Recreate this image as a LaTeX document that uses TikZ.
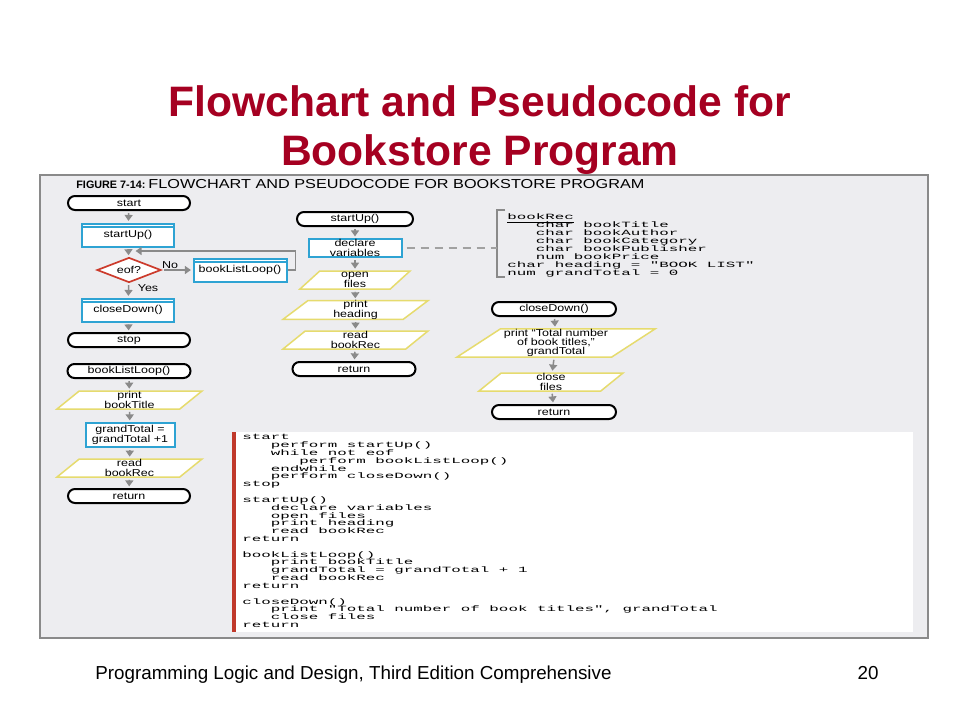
\documentclass[tikz,border=0pt]{standalone}
\usepackage{fontspec}
\setmainfont{Liberation Sans}
\newfontfamily\figfont[FakeStretch=1.25]{Liberation Sans}
\newfontfamily\codefont[FakeStretch=1.98]{Liberation Mono}
\usetikzlibrary{shapes.geometric,arrows.meta}

\definecolor{titlered}{HTML}{A50021}
\definecolor{modcyan}{HTML}{2EA3D3}
\definecolor{ioyellow}{HTML}{E6DB6E}
\definecolor{decred}{HTML}{CC3B2C}
\definecolor{arrgray}{HTML}{8A8A8A}
\definecolor{panelbg}{HTML}{EDEDF0}
\definecolor{codered}{HTML}{C0392B}
\newcommand\tabin{\hspace*{14.25pt}}
\lineskiplimit=-10pt

\begin{document}
\begin{tikzpicture}[x=0.5pt, y=-0.5pt,
    >={Triangle[length=3pt,width=4pt]},
    lbl/.style={inner sep=0pt, font=\figfont\fontsize{5}{4.7}\selectfont},
    term/.style={lbl, draw, line width=1pt, rounded corners=3.5pt, fill=white,
      minimum width=61pt, minimum height=7pt},
    procbox/.style={lbl, draw=modcyan, line width=1pt, fill=white, align=center,
      minimum width=46pt, minimum height=11.5pt},
    module/.style={procbox, path picture={\draw[modcyan, line width=0.6pt]
      ([yshift=-1.75pt]path picture bounding box.north west) --
      ([yshift=-1.75pt]path picture bounding box.north east);}},
    io/.style={lbl, trapezium, trapezium left angle=37, trapezium right angle=143,
      trapezium stretches body, draw=ioyellow, line width=0.75pt, fill=white,
      align=center, minimum width=72.5pt, minimum height=9pt},
    decision/.style={lbl, diamond, aspect=2.5, draw=decred, line width=0.85pt,
      fill=white, minimum width=32pt, minimum height=12.5pt},
    flow/.style={->, draw=arrgray, line width=0.75pt, shorten >=0.8pt, shorten <=1pt},
    code/.style={anchor=north west, inner sep=0pt, align=left,
      font=\codefont\fontsize{4}{3.915}\selectfont}]

  \fill[white] (0,0) rectangle (960,720);
  \useasboundingbox (0,0) rectangle (960,720);

  % slide title and footer
  \node[anchor=base, text=titlered, font=\bfseries\fontsize{21.3}{25}\selectfont]
    (title1) at (480,116) {Flowchart and Pseudocode for};
  \node[anchor=base, text=titlered, font=\bfseries\fontsize{21.3}{25}\selectfont]
    (title2) at (480,165) {Bookstore Program};
  \node[anchor=base west, inner sep=0pt, font=\fontsize{9.4}{11}\selectfont]
    (foot) at (95,679) {Programming Logic and Design, Third Edition Comprehensive};
  \node[anchor=base, inner sep=0pt, font=\fontsize{9.4}{11}\selectfont]
    (pagenum) at (868,679) {20};

  % figure panel
  \draw[draw=arrgray, line width=1pt, fill=panelbg] (40,175) rectangle (928,638);
  \fill[white] (236,432) rectangle (913,632);
  \fill[codered] (232,432) rectangle (236,632);
  \node[anchor=base west, inner sep=0pt, font=\bfseries\fontsize{5.4}{6}\selectfont]
    (fignum) at (76,188.5) {FIGURE 7-14:};
  \node[anchor=base west, inner sep=0pt, font=\figfont\fontsize{6.5}{7}\selectfont]
    (figcap) at (148,188.5) {FLOWCHART AND PSEUDOCODE FOR BOOKSTORE PROGRAM};

  % main logic
  \node[term] (start) at (129,203) {start};
  \node[module] (startup) at (128,235) {startUp()};
  \node[decision] (eof) at (129,270) {eof?};
  \node[module, minimum width=46.5pt] (loopcall) at (240,270) {bookListLoop()};
  \node[module] (closedown) at (128,310) {closeDown()};
  \node[term] (stop) at (129,340) {stop};
  \node[lbl] (nolbl) at (170,265) {No};
  \node[lbl] (yeslbl) at (148,288) {Yes};
  \coordinate (loopin) at (134,251);

  \draw[flow] (start) -- (startup);
  \draw[flow] (startup) -- (eof);
  \draw[flow] (eof) -- (loopcall);
  \draw[flow] (eof) -- (closedown);
  \draw[flow] (closedown) -- (stop);
  \draw[flow, shorten <=0pt] (loopcall.east) -- ++(8,0) |- (loopin);

  % bookListLoop module
  \node[term, minimum width=61.5pt] (looptop) at (129,371) {bookListLoop()};
  \node[io] (printtitle) at (129.5,400) {print\\bookTitle};
  \node[procbox, minimum width=44.5pt, minimum height=12pt] (addtotal) at (130,435)
    {grandTotal =\\grandTotal +1};
  \node[io] (readrec) at (129.5,468) {read\\bookRec};
  \node[term] (loopret) at (129,496) {return};

  \draw[flow] (looptop) -- (printtitle);
  \draw[flow] (printtitle) -- (addtotal);
  \draw[flow] (addtotal) -- (readrec);
  \draw[flow] (readrec) -- (loopret);

  % startUp module
  \node[term, minimum width=58pt] (sutop) at (355,219) {startUp()};
  \node[procbox, minimum width=46.5pt, minimum height=9pt] (declare) at (355,248)
    {declare\\variables};
  \node[io, minimum width=55pt] (openf) at (355,280) {open\\files};
  \node[io] (printhead) at (355.5,310) {print\\heading};
  \node[io] (readfirst) at (355.5,340) {read\\bookRec};
  \node[term, minimum width=61.5pt] (suret) at (354,369) {return};

  \draw[flow] (sutop) -- (declare);
  \draw[flow] (declare) -- (openf);
  \draw[flow] (openf) -- (printhead);
  \draw[flow] (printhead) -- (readfirst);
  \draw[flow] (readfirst) -- (suret);

  % declarations
  \draw[arrgray, line width=0.75pt] (505,210) -- (497,210) -- (497,277) -- (505,277);
  \coordinate (brk) at (497,248);
  \draw[arrgray!80, line width=0.6pt, dash pattern=on 4pt off 3pt, shorten <=2pt]
    (declare.east) -- (brk);
  \node[code, font=\codefont\fontsize{4}{4}\selectfont] (recdecl) at (507,213)
    {\underline{bookRec}\\
     \tabin char bookTitle\\
     \tabin char bookAuthor\\
     \tabin char bookCategory\\
     \tabin char bookPublisher\\
     \tabin num bookPrice\\
     char heading = "BOOK LIST"\\
     num grandTotal = 0};

  % closeDown module
  \node[term, minimum width=62pt] (cdtop) at (554,309) {closeDown()};
  \node[io, minimum width=99pt, minimum height=14pt, trapezium left angle=33,
    trapezium right angle=147] (printtot) at (556,343)
    {print “Total number\\of book titles,”\\grandTotal};
  \node[io, minimum width=72pt] (closef) at (551,382) {close\\files};
  \node[term, minimum width=62pt] (cdret) at (554,412) {return};

  \draw[flow] (cdtop) -- (printtot);
  \draw[flow] (printtot) -- (closef);
  \draw[flow] (closef) -- (cdret);

  % pseudocode
  \node[code] (pseudo) at (242,434)
    {start\\
     \tabin perform startUp()\\
     \tabin while not eof\\
     \tabin\tabin perform bookListLoop()\\
     \tabin endwhile\\
     \tabin perform closeDown()\\
     stop\\[3.9pt]
     startUp()\\
     \tabin declare variables\\
     \tabin open files\\
     \tabin print heading\\
     \tabin read bookRec\\
     return\\[3.9pt]
     bookListLoop()\\
     \tabin print bookTitle\\
     \tabin grandTotal = grandTotal + 1\\
     \tabin read bookRec\\
     return\\[3.9pt]
     closeDown()\\
     \tabin print "Total number of book titles", grandTotal\\
     \tabin close files\\
     return};
\end{tikzpicture}
\end{document}
